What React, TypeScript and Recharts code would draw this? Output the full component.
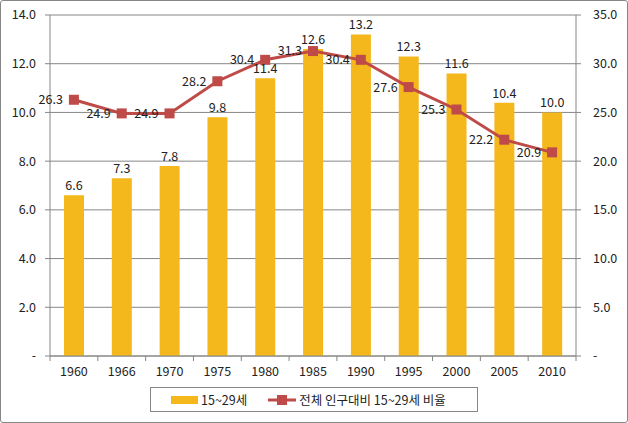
import { Bar, CartesianGrid, ComposedChart, LabelList, Legend, Line, XAxis, YAxis } from "recharts"

const years = ["1960", "1966", "1970", "1975", "1980", "1985", "1990", "1995", "2000", "2005", "2010"]
const youthPop = [6.6, 7.3, 7.8, 9.8, 11.4, 12.6, 13.2, 12.3, 11.6, 10.4, 10.0]
const youthShare = [26.3, 24.9, 24.9, 28.2, 30.4, 31.3, 30.4, 27.6, 25.3, 22.2, 20.9]
const leftTicks = [0, 2, 4, 6, 8, 10, 12, 14]
const rightTicks = [0, 5, 10, 15, 20, 25, 30, 35]

const BAR_COLOR = "#F4B81C"
const LINE_COLOR = "#BE4B48"
const AXIS_COLOR = "#868686"
const FONT = "'Noto Sans CJK KR', 'Malgun Gothic', sans-serif"

const data = years.map((year, i) => ({ year, pop: youthPop[i], share: youthShare[i] }))

const fmt = (v: number) => (v === 0 ? "-" : v.toFixed(1))

// plot is 526px wide, 11 categories
const HALF_BAND = 526 / 11 / 2

function YearTick(props: any) {
  const { x, y, payload, index } = props
  return (
    <g>
      <line x1={x + HALF_BAND} y1={y - 8} x2={x + HALF_BAND} y2={y - 3} stroke={AXIS_COLOR} />
      {index === 0 && <line x1={x - HALF_BAND} y1={y - 8} x2={x - HALF_BAND} y2={y - 3} stroke={AXIS_COLOR} />}
      <text x={x} y={y + 12} textAnchor="middle" fontSize={12.5} fill="#222" fontFamily={FONT}>
        {payload.value}
      </text>
    </g>
  )
}

function SquareDot(props: any) {
  const { cx, cy } = props
  if (cx == null || cy == null) return null
  return <rect x={cx - 5} y={cy - 5} width={10} height={10} fill={LINE_COLOR} />
}

function LegendBox() {
  return (
    <div
      style={{
        width: 328,
        height: 25,
        boxSizing: "border-box",
        border: `1px solid ${AXIS_COLOR}`,
        display: "flex",
        alignItems: "center",
        fontFamily: FONT,
        fontSize: 12.5,
        color: "#222",
      }}
    >
      <span style={{ display: "inline-block", width: 27, height: 8, background: BAR_COLOR, marginLeft: 20, marginRight: 3 }} />
      <span>15~29세</span>
      <svg width={30} height={12} style={{ marginLeft: 20, marginRight: 2 }}>
        <line x1={1} y1={6} x2={29} y2={6} stroke={LINE_COLOR} strokeWidth={3} />
        <rect x={10} y={1} width={10} height={10} fill={LINE_COLOR} />
      </svg>
      <span>전체 인구대비 15~29세 비율</span>
    </div>
  )
}

export default function App() {
  return (
    <div
      style={{
        position: "absolute",
        left: 0,
        top: 0,
        width: 628,
        height: 423,
        boxSizing: "border-box",
        border: `1px solid ${AXIS_COLOR}`,
        borderRadius: 3,
        background: "#fff",
      }}
    >
      <ComposedChart width={626} height={421} data={data} margin={{ top: 14, right: 0, bottom: 16, left: 0 }}>
        <CartesianGrid vertical={false} stroke={AXIS_COLOR} yAxisId="left" />
        <XAxis
          dataKey="year"
          xAxisId="x"
          height={25}
          tickLine={false}
          axisLine={{ stroke: AXIS_COLOR }}
          tick={<YearTick />}
          interval={0}
        />
        <YAxis
          yAxisId="left"
          width={49}
          domain={[0, 14]}
          ticks={leftTicks}
          tickFormatter={fmt}
          tickSize={5}
          tickMargin={9}
          tickLine={{ stroke: AXIS_COLOR }}
          axisLine={{ stroke: AXIS_COLOR }}
          tick={{ fontSize: 12.5, fill: "#222", fontFamily: FONT }}
        />
        <YAxis
          yAxisId="right"
          orientation="right"
          width={51}
          domain={[0, 35]}
          ticks={rightTicks}
          tickFormatter={fmt}
          tickSize={5}
          tickMargin={12}
          tickLine={{ stroke: AXIS_COLOR }}
          axisLine={{ stroke: AXIS_COLOR }}
          tick={{ fontSize: 12.5, fill: "#222", fontFamily: FONT, textAnchor: "start" }}
        />
        <Bar dataKey="pop" xAxisId="x" yAxisId="left" fill={BAR_COLOR} barSize={20} isAnimationActive={false}>
          <LabelList dataKey="pop" position="top" offset={5} formatter={(v: any) => Number(v).toFixed(1)} style={{ fontSize: 12.5, fill: "#222", fontFamily: FONT }} />
        </Bar>
        <Line
          dataKey="share"
          xAxisId="x"
          yAxisId="right"
          stroke={LINE_COLOR}
          strokeWidth={3}
          dot={<SquareDot />}
          activeDot={false}
          isAnimationActive={false}
        >
          <LabelList dataKey="share" position="left" offset={11} formatter={(v: any) => Number(v).toFixed(1)} style={{ fontSize: 12.5, fill: "#222", fontFamily: FONT }} />
        </Line>
        <Legend content={<LegendBox />} wrapperStyle={{ position: "absolute", left: 149, top: 386, width: 328, height: 25 }} />
      </ComposedChart>
    </div>
  )
}
